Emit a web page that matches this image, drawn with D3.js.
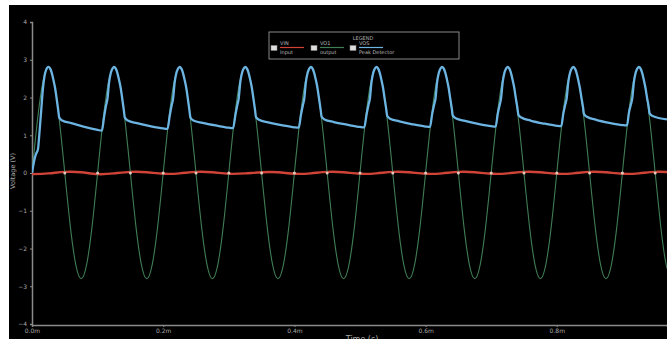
<!DOCTYPE html>
<html><head><meta charset="utf-8">
<script src="https://cdn.jsdelivr.net/npm/d3@7"></script>
<style>
html,body{margin:0;padding:0;background:#fff;}
svg{display:block;}
</style></head>
<body>
<svg id="c" width="667" height="339"></svg>
<script>
// ---- data (time in ms, voltage in V) ----
const xTicks = [0, 0.2, 0.4, 0.6, 0.8];
const xTickLabels = ["0.0m", "0.2m", "0.4m", "0.6m", "0.8m"];
const yTicks = [-4, -3, -2, -1, 0, 1, 2, 3, 4];
const legendNames = ["VIN", "VO1", "VOS"];
const legendDesc = ["Input", "output", "Peak Detector"];

// output (green), sampled every 1/120 ms
const outStep = 1 / 120;
const outputV = [
 0,1.4,2.42,2.8,2.42,1.4,0,-1.4,-2.42,-2.8,-2.42,-1.4,
 0,1.4,2.42,2.8,2.42,1.4,0,-1.4,-2.42,-2.8,-2.42,-1.4,
 0,1.4,2.42,2.8,2.42,1.4,0,-1.4,-2.42,-2.8,-2.42,-1.4,
 0,1.4,2.42,2.8,2.42,1.4,0,-1.4,-2.42,-2.8,-2.42,-1.4,
 0,1.4,2.42,2.8,2.42,1.4,0,-1.4,-2.42,-2.8,-2.42,-1.4,
 0,1.4,2.42,2.8,2.42,1.4,0,-1.4,-2.42,-2.8,-2.42,-1.4,
 0,1.4,2.42,2.8,2.42,1.4,0,-1.4,-2.42,-2.8,-2.42,-1.4,
 0,1.4,2.42,2.8,2.42,1.4,0,-1.4,-2.42,-2.8,-2.42,-1.4,
 0,1.4,2.42,2.8,2.42,1.4,0,-1.4,-2.42,-2.8,-2.42,-1.4,
 0,1.4,2.42,2.8,2.42,1.4,0,-1.4,-2.42,-2.8
];

// input (red), sampled every 0.025 ms
const inStep = 0.025;
const inputV = [
 -0.03,-0.01,0.03,0.02, -0.03,-0.01,0.03,0.02, -0.02,-0.01,0.03,0.02,
 -0.02,-0.01,0.02,0.02, -0.02,-0.01,0.03,0.02, -0.02,-0.01,0.03,0.02,
 -0.02,-0.01,0.03,0.02, -0.02,-0.01,0.03,0.02, -0.02,-0.01,0.03,0.02,
 -0.02,-0.01,0.03,0.02
];

// peak detector (blue): [time, volts]
const peakDet = [
 [0,0],[0.003,0.3],[0.006,0.5],[0.009,0.62],[0.0115,1.1],[0.014,1.65],[0.0165,2.2],[0.019,2.56],[0.0215,2.73],[0.025,2.81],[0.0275,2.77],[0.030,2.66],[0.0325,2.48],[0.035,2.27],[0.0375,1.98],[0.040,1.66],[0.0415,1.47],[0.046,1.39],[0.06,1.32],[0.08,1.22],[0.1,1.14],[0.1065,1.12],
 [0.110,1.5],[0.113,1.8],[0.115,1.96],[0.1175,2.4],[0.120,2.64],[0.1225,2.76],[0.125,2.81],[0.1275,2.77],[0.130,2.66],[0.1325,2.48],[0.135,2.27],[0.1375,1.98],[0.140,1.66],[0.1415,1.47],[0.146,1.39],[0.16,1.32],[0.18,1.24],[0.2,1.18],[0.2066,1.17],
 [0.210,1.52],[0.213,1.8],[0.215,1.96],[0.2175,2.4],[0.220,2.64],[0.2225,2.76],[0.225,2.81],[0.2275,2.77],[0.230,2.66],[0.2325,2.48],[0.235,2.27],[0.2375,1.98],[0.240,1.66],[0.2415,1.47],[0.246,1.39],[0.26,1.33],[0.28,1.26],[0.3,1.2],[0.3066,1.19],
 [0.310,1.53],[0.313,1.8],[0.315,1.96],[0.3175,2.4],[0.320,2.64],[0.3225,2.76],[0.325,2.81],[0.3275,2.77],[0.330,2.66],[0.3325,2.48],[0.335,2.27],[0.3375,1.98],[0.340,1.67],[0.3415,1.48],[0.346,1.41],[0.36,1.34],[0.38,1.27],[0.4,1.21],[0.4066,1.2],
 [0.410,1.54],[0.413,1.8],[0.415,1.96],[0.4175,2.4],[0.420,2.64],[0.4225,2.76],[0.425,2.81],[0.4275,2.77],[0.430,2.66],[0.4325,2.48],[0.435,2.27],[0.4375,1.98],[0.440,1.68],[0.4415,1.49],[0.446,1.42],[0.46,1.35],[0.48,1.28],[0.5,1.22],[0.5066,1.21],
 [0.510,1.55],[0.513,1.81],[0.515,1.96],[0.5175,2.4],[0.520,2.64],[0.5225,2.76],[0.525,2.81],[0.5275,2.77],[0.530,2.66],[0.5325,2.48],[0.535,2.27],[0.5375,1.98],[0.540,1.69],[0.5415,1.51],[0.546,1.44],[0.56,1.37],[0.58,1.29],[0.6,1.23],[0.6067,1.22],
 [0.610,1.56],[0.613,1.81],[0.615,1.96],[0.6175,2.4],[0.620,2.64],[0.6225,2.76],[0.625,2.81],[0.6275,2.77],[0.630,2.66],[0.6325,2.48],[0.635,2.27],[0.6375,1.98],[0.640,1.7],[0.6415,1.52],[0.646,1.45],[0.66,1.38],[0.68,1.3],[0.7,1.24],[0.7068,1.23],
 [0.710,1.57],[0.713,1.81],[0.715,1.97],[0.7175,2.4],[0.720,2.64],[0.7225,2.76],[0.725,2.81],[0.7275,2.77],[0.730,2.66],[0.7325,2.48],[0.735,2.27],[0.7375,1.99],[0.740,1.72],[0.7415,1.54],[0.746,1.47],[0.76,1.39],[0.78,1.31],[0.8,1.25],[0.8068,1.24],
 [0.810,1.58],[0.813,1.82],[0.815,1.97],[0.8175,2.4],[0.820,2.64],[0.8225,2.76],[0.825,2.81],[0.8275,2.77],[0.830,2.66],[0.8325,2.48],[0.835,2.27],[0.8375,2.0],[0.840,1.74],[0.8415,1.56],[0.846,1.49],[0.86,1.41],[0.88,1.33],[0.9,1.27],[0.907,1.26],
 [0.910,1.6],[0.913,1.82],[0.915,1.97],[0.9175,2.4],[0.920,2.64],[0.9225,2.76],[0.925,2.81],[0.9275,2.77],[0.930,2.66],[0.9325,2.48],[0.935,2.27],[0.9375,2.0],[0.940,1.76],[0.9415,1.58],[0.946,1.51],[0.968,1.42]
];

// ---- drawing ----
const svg = d3.select("#c");
const W = 667, H = 339;
svg.append("rect").attr("x", 9).attr("y", 5).attr("width", W - 9).attr("height", H - 5).attr("fill", "#000");

const x = d3.scaleLinear().domain([0, 0.968]).range([32, 667]);
const y = d3.scaleLinear().domain([-4, 4]).range([324, 22]);

const axisCol = "#8a8a8a";
const font = "'DejaVu Sans', Arial, sans-serif";

const gx = svg.append("g").attr("transform", `translate(0,${y(-4) + 1})`)
  .call(d3.axisBottom(x).tickValues(xTicks).tickFormat((d, i) => xTickLabels[i]).tickSize(2).tickPadding(2));
const gy = svg.append("g").attr("transform", `translate(${x(0)},0)`)
  .call(d3.axisLeft(y).tickValues(yTicks).tickSize(2).tickPadding(3));
[gx, gy].forEach(g => {
  g.select(".domain").attr("stroke", axisCol).attr("stroke-width", 1.5);
  g.selectAll(".tick line").attr("stroke", axisCol);
  g.selectAll(".tick text").attr("fill", "#aaa").style("font-family", font).style("font-size", "6px");
});

svg.append("text").attr("transform", `translate(15,${y(0) - 2}) rotate(-90)`)
  .attr("text-anchor", "middle").attr("fill", "#aaa").style("font-family", font).style("font-size", "6.5px")
  .text("Voltage (V)");
svg.append("text").attr("x", 362).attr("y", 342).attr("text-anchor", "middle")
  .attr("fill", "#aaa").style("font-family", font).style("font-size", "8px").text("Time (s)");

svg.append("clipPath").attr("id", "pc").append("rect")
  .attr("x", 32).attr("y", 5).attr("width", W - 32).attr("height", 320);
const plot = svg.append("g").attr("clip-path", "url(#pc)");

const lineIdx = (step) => d3.line().x((d, i) => x(i * step)).y(d => y(d)).curve(d3.curveNatural);

plot.append("path").datum(inputV).attr("d", lineIdx(inStep))
  .attr("fill", "none").attr("stroke", "#cf4436").attr("stroke-width", 2.4);
plot.append("path").datum(outputV).attr("d", lineIdx(outStep))
  .attr("fill", "none").attr("stroke", "#3f7d55").attr("stroke-width", 1.1);

// pale dots where output crosses the input line
const crossings = outputV.map((v, i) => ({t: i * outStep, v})).filter((d, i) => d.v === 0 && i > 0);
plot.selectAll("circle.cr").data(crossings).enter().append("circle")
  .attr("cx", d => x(d.t)).attr("cy", y(0)).attr("r", 1.5).attr("fill", "#e8c4bc");

plot.append("path").datum(peakDet)
  .attr("d", d3.line().x(d => x(d[0])).y(d => y(d[1])).curve(d3.curveMonotoneX))
  .attr("fill", "none").attr("stroke", "#6cb4e2").attr("stroke-width", 2.3);

// legend
const lg = svg.append("g");
lg.append("rect").attr("x", 269).attr("y", 32).attr("width", 190).attr("height", 27)
  .attr("fill", "#000").attr("stroke", "#888").attr("stroke-width", 1);
lg.append("text").attr("x", 363).attr("y", 39.5).attr("text-anchor", "middle")
  .attr("fill", "#aaa").style("font-family", font).style("font-size", "5px").text("LEGEND");
const legCols = ["#cf4436", "#3f7d55", "#6cb4e2"];
const legX = [280, 320, 359];
legendNames.forEach((n, i) => {
  const g = lg.append("g").attr("transform", `translate(${legX[i]},0)`);
  g.append("rect").attr("x", -9).attr("y", 45.5).attr("width", 6).attr("height", 5)
    .attr("fill", "#ddd").attr("stroke", "#888").attr("stroke-width", 0.5);
  g.append("text").attr("x", 0).attr("y", 45).attr("fill", "#bbb")
    .style("font-family", font).style("font-size", "5px").text(n);
  g.append("line").attr("x1", 0).attr("x2", 24).attr("y1", 47.5).attr("y2", 47.5)
    .attr("stroke", legCols[i]).attr("stroke-width", 1.2);
  g.append("text").attr("x", 0).attr("y", 54).attr("fill", "#bbb")
    .style("font-family", font).style("font-size", "5px").text(legendDesc[i]);
});
</script>
</body></html>
